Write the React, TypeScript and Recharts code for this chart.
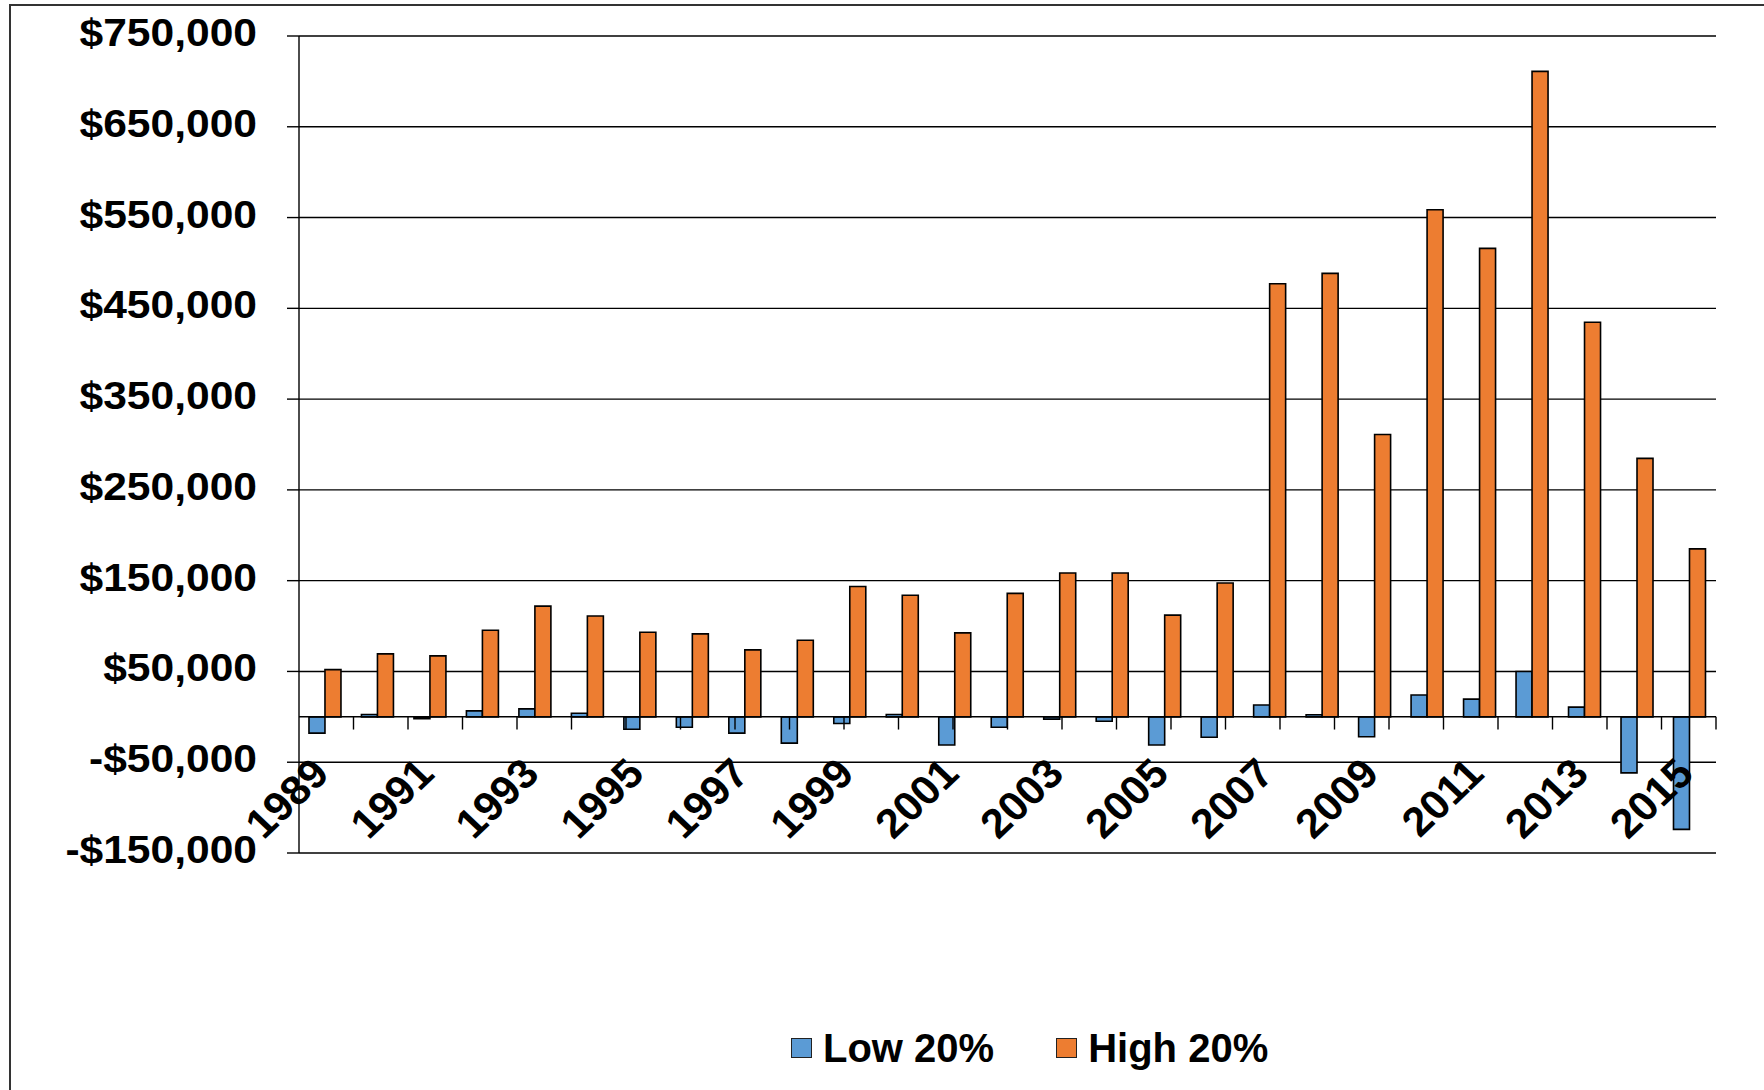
import React from 'react';
import { BarChart, Bar, XAxis, YAxis, CartesianGrid, ReferenceLine, Legend } from 'recharts';

const years = [
  '1989', '1990', '1991', '1992', '1993', '1994', '1995', '1996', '1997', '1998',
  '1999', '2000', '2001', '2002', '2003', '2004', '2005', '2006', '2007', '2008',
  '2009', '2010', '2011', '2012', '2013', '2014', '2015',
];

const lowValues = [
  -18000, 2500, -2000, 6600, 8800, 4000, -13600, -11400, -18000, -29000,
  -7300, 2600, -31000, -11500, -2500, -4800, -31000, -22500, 13000, 2300,
  -22000, 24000, 19500, 50000, 10700, -61700, -124000,
];

const highValues = [
  52000, 69400, 67200, 95400, 122000, 111000, 93200, 91400, 73800, 84400,
  143500, 134000, 92500, 136000, 158500, 158500, 112000, 147500, 477000, 488500,
  311000, 558600, 516000, 711000, 434600, 284700, 185000,
];

const yTicks = [-150000, -50000, 50000, 150000, 250000, 350000, 450000, 550000, 650000, 750000];

const seriesNames = ['Low 20%', 'High 20%'];
const seriesKeys = ['low', 'high'];
const seriesColors = ['#5B9BD5', '#ED7D31'];

const data = years.map((year, i) => ({ year, low: lowValues[i], high: highValues[i] }));
const boundaries = years.map((_, i) => i + 1);

const FONT = "'Liberation Sans', Arial, Helvetica, sans-serif";

const formatMoney = (v: number) => (v < 0 ? '-$' : '$') + Math.abs(v).toLocaleString('en-US');

const YTick = (props: any) => {
  const { x, y, payload } = props;
  return (
    <text
      x={0}
      y={0}
      dy={10}
      textAnchor="end"
      fontFamily={FONT}
      fontWeight="bold"
      fontSize={38}
      fill="#000"
      transform={`translate(${x},${y}) scale(1.12,1)`}
    >
      {formatMoney(payload.value)}
    </text>
  );
};

const XTick = (props: any) => {
  const { x, y, payload } = props;
  return (
    <text
      x={0}
      y={0}
      textAnchor="end"
      fontFamily={FONT}
      fontWeight="bold"
      fontSize={41}
      fill="#000"
      transform={`translate(${x + 6},${y - 77}) scale(1.05,1) rotate(-45)`}
    >
      {payload.value}
    </text>
  );
};

const LegendContent = () => (
  <div
    style={{
      display: 'flex',
      alignItems: 'center',
      height: 60,
      paddingLeft: 791,
      fontFamily: FONT,
      fontWeight: 'bold',
      fontSize: 40,
      color: '#000',
      boxSizing: 'border-box',
    }}
  >
    {seriesNames.map((n, i) => (
      <div key={n} style={{ display: 'flex', alignItems: 'center', marginRight: 62 }}>
        <span
          style={{
            display: 'inline-block',
            width: 19,
            height: 18,
            background: seriesColors[i],
            border: '1.5px solid #222',
            marginRight: 11,
          }}
        />
        <span style={{ lineHeight: '44px' }}>{n}</span>
      </div>
    ))}
  </div>
);

export default function App() {
  return (
    <div style={{ position: 'absolute', left: 0, top: 0, width: 1764, height: 1090, background: '#fff' }}>
      <BarChart
        width={1764}
        height={1090}
        data={data}
        margin={{ top: 36, right: 48, left: 0, bottom: 12 }}
        barCategoryGap="19%"
        barGap={0}
      >
        <CartesianGrid vertical={false} stroke="#000" strokeWidth={1.4} />
        <YAxis
          width={299}
          domain={[-150000, 750000]}
          ticks={yTicks}
          interval={0}
          allowDataOverflow
          axisLine={{ stroke: '#000', strokeWidth: 1.4 }}
          tickLine={{ stroke: '#000', strokeWidth: 1.4 }}
          tickSize={12}
          tickMargin={30}
          tick={<YTick />}
        />
        <XAxis xAxisId="n" type="number" domain={[0, years.length]} allowDataOverflow hide />
        {seriesKeys.map((k, i) => (
          <Bar
            key={k}
            dataKey={k}
            name={seriesNames[i]}
            xAxisId="c"
            fill={seriesColors[i]}
            stroke="#000"
            strokeWidth={1.6}
            isAnimationActive={false}
          />
        ))}
        <ReferenceLine y={0} xAxisId="c" stroke="#000" strokeWidth={1.5} />
        {boundaries.map((b) => (
          <ReferenceLine
            key={b}
            xAxisId="n"
            segment={[{ x: b, y: 0 }, { x: b, y: -14000 }]}
            stroke="#000"
            strokeWidth={1.4}
          />
        ))}
        <XAxis
          xAxisId="c"
          dataKey="year"
          height={165}
          axisLine={false}
          tickLine={false}
          tickSize={0}
          tickMargin={0}
          interval={1}
          tick={<XTick />}
        />
        <Legend verticalAlign="bottom" content={<LegendContent />} />
      </BarChart>
      <div
        style={{
          position: 'absolute',
          left: 9,
          top: 4,
          right: 0,
          bottom: 0,
          borderLeft: '2px solid #333',
          borderTop: '2px solid #333',
          pointerEvents: 'none',
        }}
      />
    </div>
  );
}
